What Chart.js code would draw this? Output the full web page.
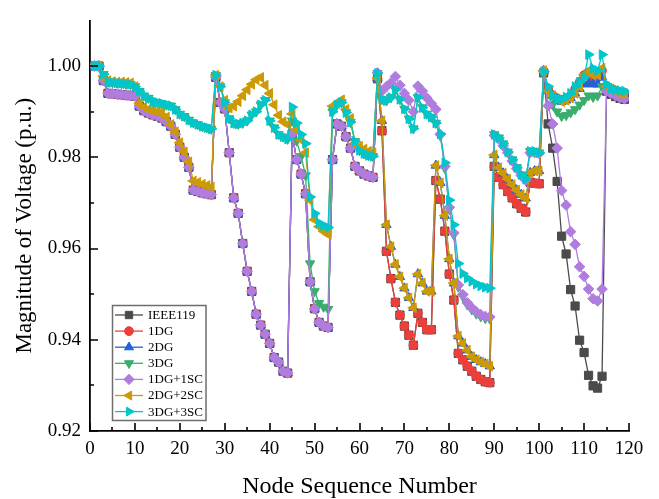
<!DOCTYPE html>
<html><head><meta charset="utf-8">
<script src="https://cdn.jsdelivr.net/npm/chart.js@4.4.0/dist/chart.umd.min.js"></script>
<style>html,body{margin:0;padding:0;background:#fff;}#wrap{width:659px;height:499px;}</style>
</head><body><div id="wrap"><canvas id="c" width="659" height="499"></canvas></div>
<script>
const nodes = [1,2,3,4,5,6,7,8,9,10,11,12,13,14,15,16,17,18,19,20,21,22,23,24,25,26,27,28,29,30,31,32,33,34,35,36,37,38,39,40,41,42,43,44,45,46,47,48,49,50,51,52,53,54,55,56,57,58,59,60,61,62,63,64,65,66,67,68,69,70,71,72,73,74,75,76,77,78,79,80,81,82,83,84,85,86,87,88,89,90,91,92,93,94,95,96,97,98,99,100,101,102,103,104,105,106,107,108,109,110,111,112,113,114,115,116,117,118,119];

const ieee119 = [
1.0000,1.0000,0.9968,0.9940,0.9939,0.9938,0.9937,0.9936,0.9935,0.9934,
0.9912,0.9902,0.9897,0.9893,0.9890,0.9886,0.9878,0.9868,0.9850,0.9822,
0.9800,0.9778,0.9728,0.9725,0.9722,0.9720,0.9718,0.9975,0.9920,0.9906,
0.9810,0.9711,0.9677,0.9611,0.9550,0.9506,0.9456,0.9432,0.9412,0.9392,
0.9361,0.9351,0.9331,0.9327,0.9851,0.9795,0.9763,0.9720,0.9527,0.9468,
0.9438,0.9430,0.9427,0.9795,0.9873,0.9868,0.9845,0.9820,0.9780,0.9770,
0.9763,0.9759,0.9756,0.9972,0.9858,0.9594,0.9534,0.9482,0.9454,0.9430,
0.9410,0.9388,0.9458,0.9438,0.9422,0.9422,0.9749,0.9708,0.9638,0.9544,
0.9487,0.9370,0.9356,0.9342,0.9331,0.9320,0.9313,0.9308,0.9306,0.9780,
0.9756,0.9740,0.9725,0.9711,0.9698,0.9688,0.9680,0.9745,0.9743,0.9742,
0.9985,0.9873,0.9820,0.9747,0.9627,0.9588,0.9510,0.9474,0.9399,0.9372,
0.9322,0.9299,0.9294,0.9320,0.9945,0.9938,0.9933,0.9929,0.9927];

const dg1 = [
1.0000,1.0000,0.9968,0.9940,0.9939,0.9938,0.9937,0.9936,0.9935,0.9934,
0.9912,0.9902,0.9897,0.9893,0.9890,0.9886,0.9878,0.9868,0.9850,0.9822,
0.9800,0.9778,0.9728,0.9725,0.9722,0.9720,0.9718,0.9975,0.9920,0.9906,
0.9810,0.9711,0.9677,0.9611,0.9550,0.9506,0.9456,0.9432,0.9412,0.9392,
0.9361,0.9351,0.9331,0.9327,0.9851,0.9795,0.9763,0.9720,0.9527,0.9468,
0.9438,0.9430,0.9427,0.9795,0.9873,0.9868,0.9845,0.9820,0.9780,0.9770,
0.9763,0.9759,0.9756,0.9972,0.9858,0.9594,0.9534,0.9482,0.9454,0.9430,
0.9410,0.9388,0.9458,0.9438,0.9422,0.9422,0.9749,0.9708,0.9638,0.9544,
0.9487,0.9370,0.9356,0.9342,0.9331,0.9320,0.9313,0.9308,0.9306,0.9780,
0.9756,0.9740,0.9725,0.9711,0.9698,0.9688,0.9680,0.9745,0.9743,0.9742,
0.9988,0.9950,0.9936,0.9929,0.9926,0.9928,0.9935,0.9950,0.9965,0.9980,
0.9985,0.9975,0.9980,0.9990,0.9955,0.9950,0.9946,0.9942,0.9940];

const dg2 = [
1.0000,1.0000,0.9968,0.9940,0.9939,0.9938,0.9937,0.9936,0.9935,0.9934,
0.9912,0.9902,0.9897,0.9893,0.9890,0.9886,0.9878,0.9868,0.9850,0.9822,
0.9800,0.9778,0.9728,0.9725,0.9722,0.9720,0.9718,0.9975,0.9920,0.9906,
0.9810,0.9711,0.9677,0.9611,0.9550,0.9506,0.9456,0.9432,0.9412,0.9392,
0.9361,0.9351,0.9331,0.9327,0.9851,0.9795,0.9763,0.9720,0.9527,0.9468,
0.9438,0.9430,0.9427,0.9795,0.9873,0.9868,0.9845,0.9820,0.9780,0.9770,
0.9763,0.9759,0.9756,0.9973,0.9880,0.9652,0.9604,0.9565,0.9538,0.9513,
0.9492,0.9470,0.9544,0.9524,0.9506,0.9506,0.9782,0.9744,0.9672,0.9577,
0.9524,0.9408,0.9392,0.9377,0.9363,0.9356,0.9351,0.9347,0.9342,0.9805,
0.9777,0.9765,0.9752,0.9740,0.9728,0.9718,0.9710,0.9766,0.9770,0.9770,
0.9990,0.9945,0.9935,0.9928,0.9922,0.9925,0.9930,0.9940,0.9950,0.9960,
0.9962,0.9960,0.9960,0.9975,0.9955,0.9950,0.9945,0.9940,0.9940];

const dg3 = [
1.0000,1.0000,0.9982,0.9965,0.9964,0.9963,0.9962,0.9961,0.9960,0.9955,
0.9945,0.9935,0.9930,0.9922,0.9920,0.9918,0.9915,0.9913,0.9905,0.9895,
0.9890,0.9882,0.9876,0.9872,0.9868,0.9865,0.9862,0.9980,0.9955,0.9920,
0.9885,0.9875,0.9873,0.9875,0.9880,0.9893,0.9900,0.9915,0.9925,0.9880,
0.9865,0.9850,0.9845,0.9840,0.9880,0.9836,0.9802,0.9760,0.9567,0.9506,
0.9480,0.9472,0.9467,0.9900,0.9915,0.9920,0.9898,0.9877,0.9835,0.9815,
0.9808,0.9804,0.9802,0.9984,0.9927,0.9924,0.9931,0.9948,0.9927,0.9906,
0.9884,0.9863,0.9931,0.9909,0.9895,0.9888,0.9875,0.9847,0.9776,0.9686,
0.9630,0.9516,0.9495,0.9477,0.9466,0.9457,0.9451,0.9447,0.9446,0.9850,
0.9843,0.9830,0.9812,0.9795,0.9778,0.9762,0.9752,0.9813,0.9813,0.9810,
0.9985,0.9940,0.9915,0.9900,0.9890,0.9892,0.9898,0.9905,0.9915,0.9925,
0.9935,0.9932,0.9935,0.9955,0.9955,0.9950,0.9945,0.9940,0.9938];

const dg1sc1 = [
1.0000,1.0000,0.9968,0.9940,0.9939,0.9938,0.9937,0.9936,0.9935,0.9934,
0.9912,0.9902,0.9897,0.9893,0.9890,0.9886,0.9878,0.9868,0.9850,0.9822,
0.9800,0.9778,0.9728,0.9725,0.9722,0.9720,0.9718,0.9975,0.9920,0.9906,
0.9810,0.9711,0.9677,0.9611,0.9550,0.9506,0.9456,0.9432,0.9412,0.9392,
0.9361,0.9351,0.9331,0.9327,0.9851,0.9795,0.9763,0.9720,0.9527,0.9468,
0.9438,0.9430,0.9427,0.9795,0.9873,0.9868,0.9845,0.9820,0.9780,0.9770,
0.9763,0.9759,0.9756,0.9985,0.9945,0.9955,0.9963,0.9977,0.9958,0.9940,
0.9925,0.9900,0.9956,0.9945,0.9930,0.9918,0.9905,0.9850,0.9780,0.9690,
0.9634,0.9520,0.9499,0.9481,0.9470,0.9461,0.9455,0.9451,0.9450,0.9848,
0.9840,0.9825,0.9810,0.9792,0.9775,0.9760,0.9750,0.9810,0.9810,0.9808,
0.9988,0.9913,0.9873,0.9820,0.9727,0.9695,0.9637,0.9609,0.9560,0.9539,
0.9511,0.9490,0.9485,0.9511,0.9945,0.9940,0.9935,0.9930,0.9928];

const dg2sc2 = [
1.0000,1.0000,0.9978,0.9968,0.9966,0.9965,0.9965,0.9964,0.9963,0.9955,
0.9918,0.9910,0.9905,0.9903,0.9900,0.9898,0.9888,0.9872,0.9856,0.9832,
0.9812,0.9790,0.9748,0.9745,0.9741,0.9738,0.9735,0.9980,0.9955,0.9925,
0.9908,0.9912,0.9922,0.9935,0.9948,0.9960,0.9970,0.9975,0.9958,0.9940,
0.9915,0.9892,0.9878,0.9872,0.9895,0.9860,0.9838,0.9810,0.9706,0.9663,
0.9648,0.9638,0.9631,0.9912,0.9918,0.9926,0.9905,0.9885,0.9830,0.9824,
0.9818,0.9813,0.9810,0.9973,0.9880,0.9652,0.9604,0.9565,0.9538,0.9513,
0.9492,0.9470,0.9544,0.9524,0.9506,0.9506,0.9782,0.9744,0.9672,0.9577,
0.9524,0.9408,0.9392,0.9377,0.9363,0.9356,0.9351,0.9347,0.9342,0.9805,
0.9777,0.9765,0.9752,0.9740,0.9728,0.9718,0.9710,0.9766,0.9770,0.9770,
0.9990,0.9945,0.9935,0.9928,0.9922,0.9925,0.9930,0.9940,0.9955,0.9980,
0.9990,0.9980,0.9980,0.9995,0.9955,0.9950,0.9945,0.9940,0.9940];

const dg3sc3 = [
1.0000,1.0000,0.9982,0.9965,0.9964,0.9963,0.9962,0.9961,0.9960,0.9955,
0.9945,0.9935,0.9930,0.9922,0.9920,0.9918,0.9915,0.9913,0.9905,0.9895,
0.9890,0.9882,0.9876,0.9872,0.9868,0.9865,0.9862,0.9980,0.9955,0.9920,
0.9885,0.9875,0.9873,0.9875,0.9880,0.9893,0.9900,0.9915,0.9925,0.9880,
0.9865,0.9850,0.9845,0.9840,0.9910,0.9875,0.9850,0.9830,0.9713,0.9677,
0.9656,0.9650,0.9646,0.9900,0.9915,0.9920,0.9898,0.9877,0.9835,0.9815,
0.9808,0.9804,0.9802,0.9984,0.9927,0.9924,0.9931,0.9948,0.9927,0.9906,
0.9884,0.9863,0.9931,0.9909,0.9895,0.9888,0.9875,0.9851,0.9788,0.9706,
0.9652,0.9567,0.9545,0.9535,0.9528,0.9522,0.9518,0.9515,0.9513,0.9850,
0.9843,0.9830,0.9812,0.9795,0.9778,0.9762,0.9752,0.9813,0.9813,0.9810,
0.9988,0.9955,0.9935,0.9928,0.9927,0.9932,0.9940,0.9955,0.9965,0.9975,
1.0025,0.9995,0.9990,1.0025,0.9960,0.9950,0.9948,0.9946,0.9945];

const seriesNames = ['IEEE119','1DG','2DG','3DG','1DG+1SC','2DG+2SC','3DG+3SC'];
const seriesValues = [ieee119, dg1, dg2, dg3, dg1sc1, dg2sc2, dg3sc3];
const xMajorTicks = [0,10,20,30,40,50,60,70,80,90,100,110,120];
const xMinorTicks = [5,15,25,35,45,55,65,75,85,95,105,115];
const yMajorTicks = [0.92,0.94,0.96,0.98,1.00];
const yMinorTicks = [0.93,0.95,0.97,0.99];

const styles = [
  {color:'#4b4b4b', pointStyle:'rect', rotation:0, radius:5.8},
  {color:'#ec3f3b', pointStyle:'circle', rotation:0, radius:4.4},
  {color:'#2162d8', pointStyle:'triangle', rotation:0, radius:5.4},
  {color:'#39ae6c', pointStyle:'triangle', rotation:180, radius:5.4},
  {color:'#b07ddf', pointStyle:'rectRot', rotation:0, radius:5.3},
  {color:'#cc9a06', pointStyle:'triangle', rotation:270, radius:5.6},
  {color:'#00c6cc', pointStyle:'triangle', rotation:90, radius:5.6}
];

const FONT = "'Liberation Serif', 'Times New Roman', serif";

const datasets = seriesNames.map((name, i) => ({
  label: name,
  data: nodes.map((n, k) => ({x: n, y: seriesValues[i][k]})),
  borderColor: styles[i].color,
  backgroundColor: styles[i].color,
  pointBackgroundColor: styles[i].color,
  pointBorderColor: styles[i].color,
  pointStyle: styles[i].pointStyle,
  pointRotation: styles[i].rotation,
  pointRadius: styles[i].radius,
  pointBorderWidth: 1,
  borderWidth: 1.3,
  tension: 0,
  order: seriesNames.length - i
}));

const tickPlugin = {
  id: 'inwardTicks',
  afterDraw(chart) {
    const ctx = chart.ctx;
    const xs = chart.scales.x, ys = chart.scales.y;
    const ca = chart.chartArea;
    ctx.save();
    ctx.strokeStyle = '#000';
    ctx.lineWidth = 1.6;
    ctx.beginPath();
    xMajorTicks.forEach(v => { const px = Math.round(xs.getPixelForValue(v)); ctx.moveTo(px, ca.bottom); ctx.lineTo(px, ca.bottom - 8); });
    xMinorTicks.forEach(v => { const px = Math.round(xs.getPixelForValue(v)); ctx.moveTo(px, ca.bottom); ctx.lineTo(px, ca.bottom - 4); });
    yMajorTicks.forEach(v => { const py = Math.round(ys.getPixelForValue(v)); ctx.moveTo(ca.left, py); ctx.lineTo(ca.left + 8, py); });
    yMinorTicks.forEach(v => { const py = Math.round(ys.getPixelForValue(v)); ctx.moveTo(ca.left, py); ctx.lineTo(ca.left + 4, py); });
    ctx.stroke();
    ctx.restore();
  }
};

const legendPlugin = {
  id: 'boxLegend',
  afterDatasetsDraw(chart) {
    const ctx = chart.ctx;
    const bx = 112.5, by = 305.5, bw = 93.5, bh = 115;
    ctx.save();
    ctx.fillStyle = '#fff';
    ctx.fillRect(bx, by, bw, bh);
    ctx.strokeStyle = '#6e6e6e';
    ctx.lineWidth = 1.5;
    ctx.strokeRect(bx, by, bw, bh);
    ctx.font = '13px ' + FONT;
    ctx.textBaseline = 'middle';
    ctx.textAlign = 'left';
    chart.data.datasets.forEach((ds, i) => {
      const y = 315 + i * 16.1;
      ctx.strokeStyle = ds.borderColor;
      ctx.lineWidth = 1.3;
      ctx.beginPath(); ctx.moveTo(115, y); ctx.lineTo(143, y); ctx.stroke();
      ctx.fillStyle = ds.pointBackgroundColor;
      ctx.strokeStyle = ds.pointBorderColor;
      ctx.lineWidth = 1;
      Chart.helpers.drawPoint(ctx, {pointStyle: ds.pointStyle, rotation: ds.pointRotation, radius: Math.min(ds.pointRadius, 5.2), borderWidth: 1}, 129, y);
      ctx.fillStyle = '#000';
      ctx.fillText(ds.label, 148, y + 0.5);
    });
    ctx.restore();
  }
};

new Chart(document.getElementById('c'), {
  type: 'line',
  data: { datasets },
  options: {
    responsive: false,
    animation: false,
    events: [],
    layout: { padding: { top: 11, right: 30, left: 0, bottom: 0 } },
    plugins: { legend: { display: false }, tooltip: { enabled: false } },
    scales: {
      x: {
        type: 'linear', min: 0, max: 120,
        afterFit(s) { s.height = 68; },
        afterBuildTicks(s) { s.ticks = xMajorTicks.map(v => ({value: v})); },
        grid: { display: false, drawTicks: false },
        border: { display: true, color: '#000', width: 1.8 },
        ticks: { color: '#000', padding: 7, maxRotation: 0, autoSkip: false, font: { family: FONT, size: 19 } },
        title: { display: true, text: 'Node Sequence Number', color: '#000', font: { family: FONT, size: 24 }, padding: { top: 0, bottom: -2 } }
      },
      y: {
        type: 'linear', min: 0.92, max: 1.01,
        afterFit(s) { s.width = 90; },
        afterBuildTicks(s) { s.ticks = yMajorTicks.map(v => ({value: v})); },
        grid: { display: false, drawTicks: false },
        border: { display: true, color: '#000', width: 1.8 },
        ticks: { color: '#000', padding: 9, autoSkip: false, font: { family: FONT, size: 19 }, callback: v => v.toFixed(2) },
        title: { display: true, text: 'Magnitude of Voltage (p.u.)', color: '#000', font: { family: FONT, size: 23 }, padding: { top: 11, bottom: 0 } }
      }
    }
  },
  plugins: [tickPlugin, legendPlugin]
});
</script>
</body></html>
